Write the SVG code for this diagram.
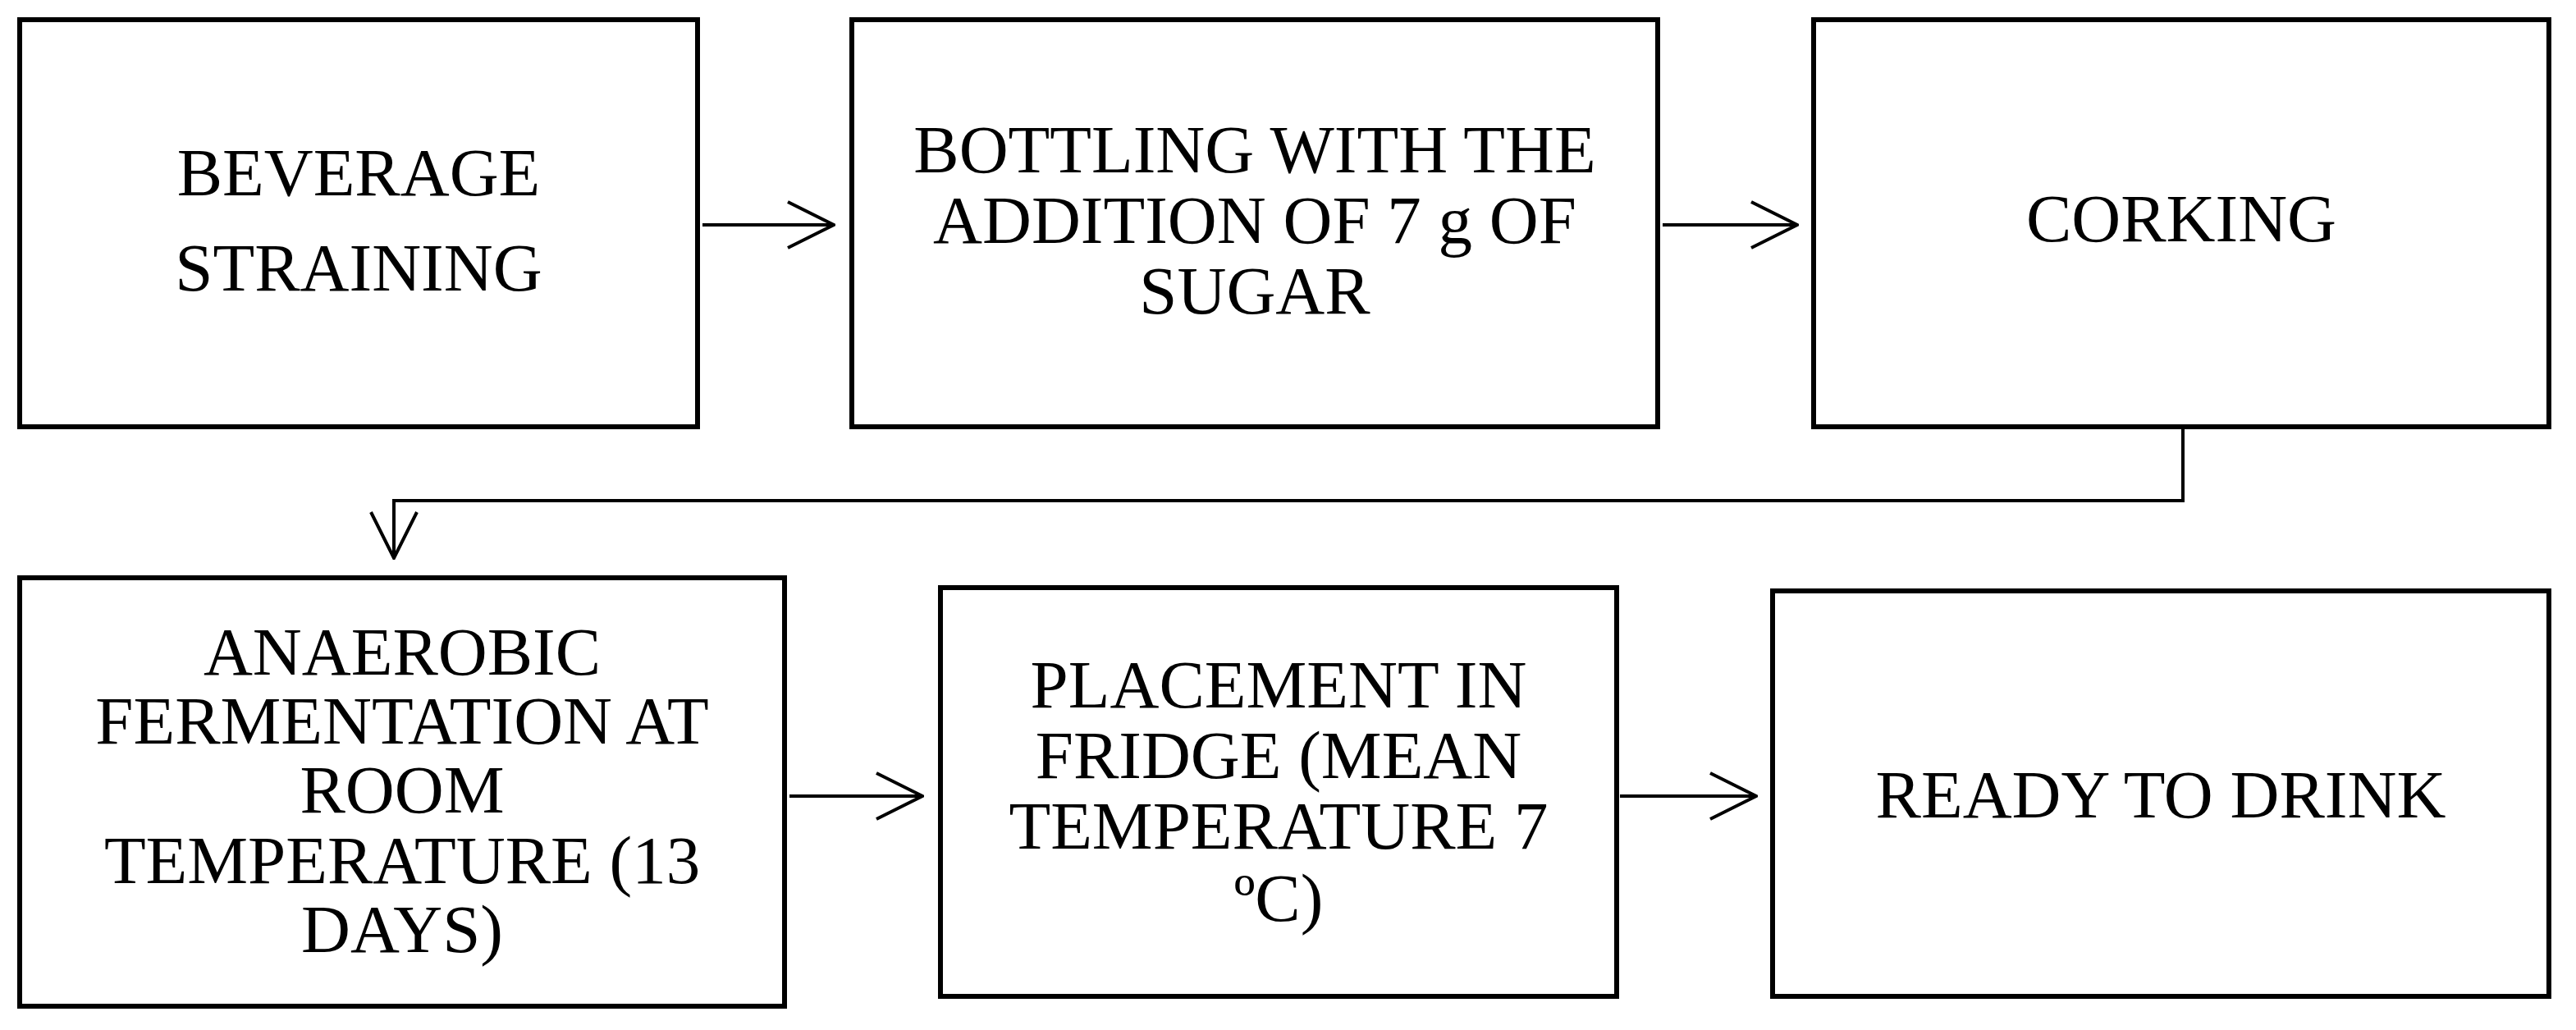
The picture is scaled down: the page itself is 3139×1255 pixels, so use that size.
<svg xmlns="http://www.w3.org/2000/svg" width="3139" height="1255" viewBox="0 0 3139 1255">
<style>
.b{fill:#fff;stroke:#000;stroke-width:6}
.t{font-family:"Liberation Serif",serif;font-size:83px;text-anchor:middle;fill:#000}
.c{fill:none;stroke:#000;stroke-width:4}
</style>
<defs><marker id="h" viewBox="0 0 60 60" refX="58" refY="30" markerWidth="60" markerHeight="60" markerUnits="userSpaceOnUse" orient="auto"><path d="M2,2 L58,30 L2,58" fill="none" stroke="#000" stroke-width="4"/></marker></defs>
<rect width="3139" height="1255" fill="#fff"/>
<g id="n1"><rect class="b" x="24" y="24" width="826" height="496"/><text class="t"><tspan x="437" y="238">BEVERAGE</tspan><tspan x="437" y="354">STRAINING</tspan></text></g>
<g id="n2"><rect class="b" x="1038" y="24" width="982" height="496"/><text class="t"><tspan x="1529" y="210">BOTTLING WITH THE</tspan><tspan x="1529" y="296">ADDITION OF 7 g OF</tspan><tspan x="1529" y="382">SUGAR</tspan></text></g>
<g id="n3"><rect class="b" x="2210" y="24" width="896" height="496"/><text class="t" x="2658" y="294">CORKING</text></g>
<g id="n4"><rect class="b" x="24" y="704" width="932" height="522"/><text class="t"><tspan x="490" y="822">ANAEROBIC</tspan><tspan x="490" y="906">FERMENTATION AT</tspan><tspan x="490" y="990">ROOM</tspan><tspan x="490" y="1076">TEMPERATURE (13</tspan><tspan x="490" y="1160">DAYS)</tspan></text></g>
<g id="n5"><rect class="b" x="1146" y="716" width="824" height="498"/><text class="t"><tspan x="1558" y="862">PLACEMENT IN</tspan><tspan x="1558" y="948">FRIDGE (MEAN</tspan><tspan x="1558" y="1034">TEMPERATURE 7</tspan><tspan x="1558" y="1122">ºC)</tspan></text></g>
<g id="n6"><rect class="b" x="2160" y="720" width="946" height="494"/><text class="t" x="2633" y="996">READY TO DRINK</text></g>
<g id="connectors">
<path class="c" d="M856,274 H1016" marker-end="url(#h)"/>
<path class="c" d="M2026,274 H2190" marker-end="url(#h)"/>
<path class="c" d="M2660,523 V610 H480 V680" marker-end="url(#h)"/>
<path class="c" d="M962,970 H1124" marker-end="url(#h)"/>
<path class="c" d="M1974,970 H2140" marker-end="url(#h)"/>
</g>
</svg>
